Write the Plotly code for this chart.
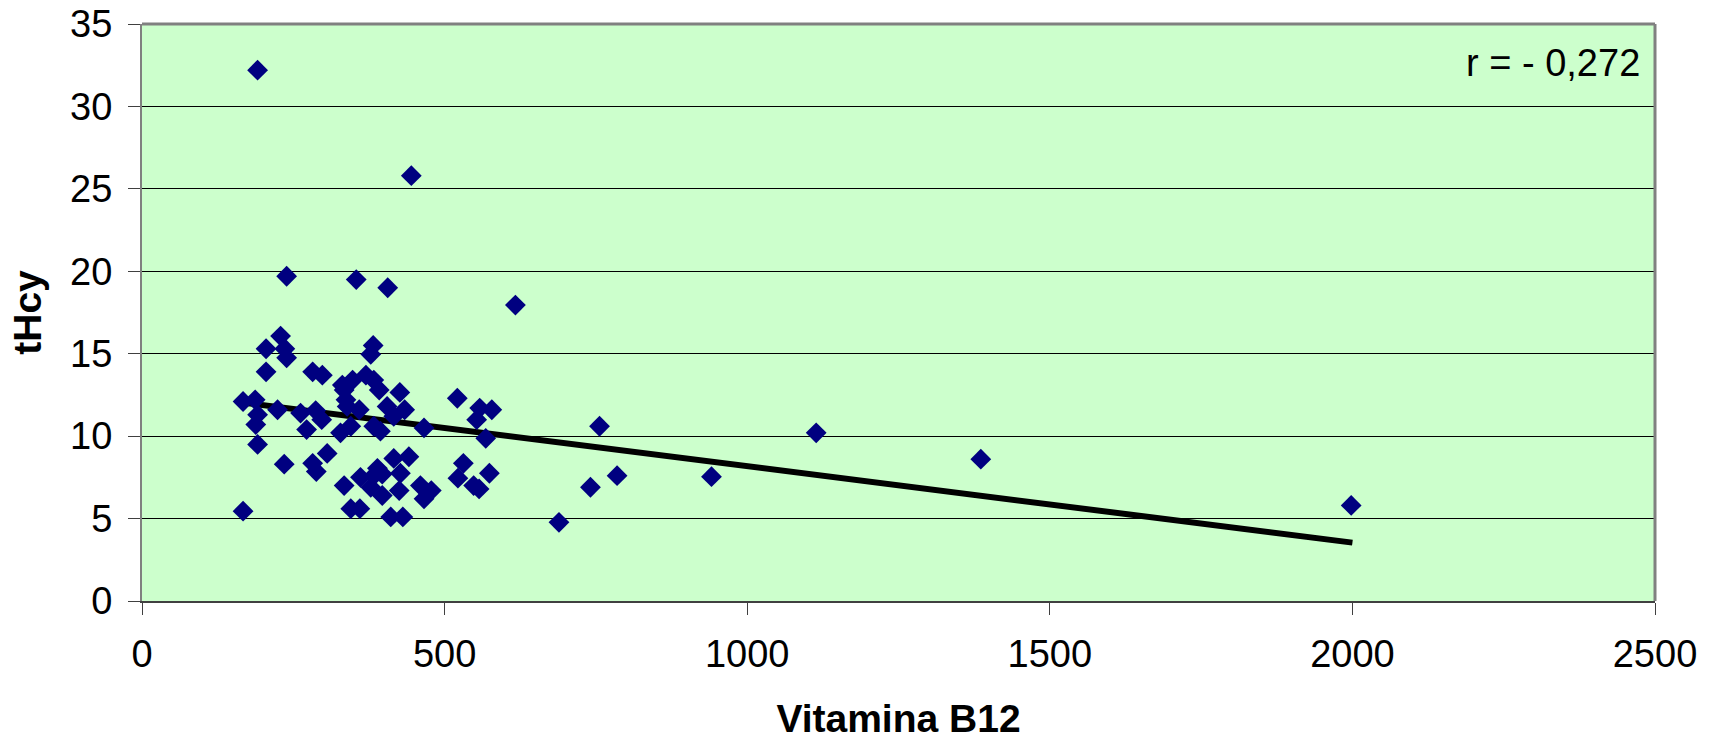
import plotly.graph_objects as go

# Data
vit_b12 = [191, 445, 239, 354, 406, 617, 229, 205, 236, 239, 382, 378, 205, 282, 298,
           331, 348, 370, 383, 392, 337, 334, 339, 426, 521, 167, 187, 224, 191, 188,
           262, 287, 297, 272, 359, 345, 328, 405, 434, 416, 383, 394, 466, 558, 578,
           553, 568, 191, 235, 282, 288, 306, 416, 441, 427, 389, 334, 361, 383, 397,
           378, 397, 425, 460, 478, 466, 345, 360, 411, 431, 167, 531, 522, 548, 557,
           574, 756, 741, 785, 689, 941, 1114, 1386, 1998]
thcy = [32.2, 25.8, 19.7, 19.5, 19.0, 17.95, 16.07, 15.3, 15.3, 14.75, 15.5, 14.96, 13.9, 13.9, 13.7,
        13.1, 13.4, 13.7, 13.4, 12.8, 12.2, 12.8, 11.8, 12.65, 12.3, 12.1, 12.2, 11.6, 11.3, 10.7,
        11.4, 11.55, 11.0, 10.4, 11.6, 10.6, 10.2, 11.8, 11.6, 11.2, 10.6, 10.3, 10.5, 11.7, 11.6,
        11.0, 9.87, 9.5, 8.3, 8.35, 7.85, 8.95, 8.65, 8.75, 7.75, 8.05, 7.0, 7.5, 7.6, 7.7,
        6.9, 6.4, 6.7, 7.0, 6.7, 6.2, 5.6, 5.6, 5.1, 5.1, 5.45, 8.35, 7.45, 7.0, 6.8,
        7.75, 10.6, 6.9, 7.6, 4.77, 7.54, 10.2, 8.6, 5.8]

trend_x = [169, 2000]
trend_y = [12.03, 3.54]

x_ticks = [0, 500, 1000, 1500, 2000, 2500]
y_ticks = [0, 5, 10, 15, 20, 25, 30, 35]

FONT = "Liberation Sans, Arial, sans-serif"

fig = go.Figure()
fig.add_trace(go.Scatter(
    x=trend_x, y=trend_y, mode="lines",
    line=dict(color="black", width=6), showlegend=False, hoverinfo="skip"))
fig.add_trace(go.Scatter(
    x=vit_b12, y=thcy, mode="markers",
    marker=dict(symbol="diamond", size=16, color="#000080", line=dict(width=0)),
    showlegend=False))

fig.add_annotation(
    x=0.9914, y=0.932, xref="paper", yref="paper", xanchor="right", yanchor="middle",
    text="r = - 0,272", showarrow=False, font=dict(family=FONT, size=38, color="black"))

fig.update_layout(
    width=1713, height=740,
    margin=dict(l=142, r=58, t=24, b=139),
    paper_bgcolor="white", plot_bgcolor="#CCFFCC",
    font=dict(family=FONT, size=38, color="black"),
    xaxis=dict(
        range=[0, 2500], tickvals=x_ticks, ticks="outside", ticklen=12,
        tickcolor="#404040", tickwidth=1, showgrid=False, zeroline=False,
        showline=True, linecolor="#404040", linewidth=2, mirror=False,
        ticklabelstandoff=6, automargin=False,
        title=dict(text="<b>Vitamina B12</b>", font=dict(family=FONT, size=39), standoff=36),
    ),
    yaxis=dict(
        range=[0, 35], tickvals=y_ticks, ticks="outside", ticklen=12,
        tickcolor="#404040", tickwidth=1, showgrid=True, gridcolor="black", gridwidth=1,
        zeroline=False, showline=True, linecolor="#808080", linewidth=2, mirror=False,
        ticklabelstandoff=8, automargin=False,
        title=dict(text="<b>tHcy</b>", font=dict(family=FONT, size=39), standoff=16),
    ),
)

# gray plot-area border on top and right
fig.add_shape(type="line", xref="paper", yref="paper", x0=0, x1=1, y0=1, y1=1,
              line=dict(color="#808080", width=3))
fig.add_shape(type="line", xref="paper", yref="paper", x0=1, x1=1, y0=0, y1=1,
              line=dict(color="#808080", width=3))

fig.write_html(
    "out.html",
    config={"displayModeBar": False},
    post_script="document.body.style.margin='0';document.body.style.overflow='hidden';")
